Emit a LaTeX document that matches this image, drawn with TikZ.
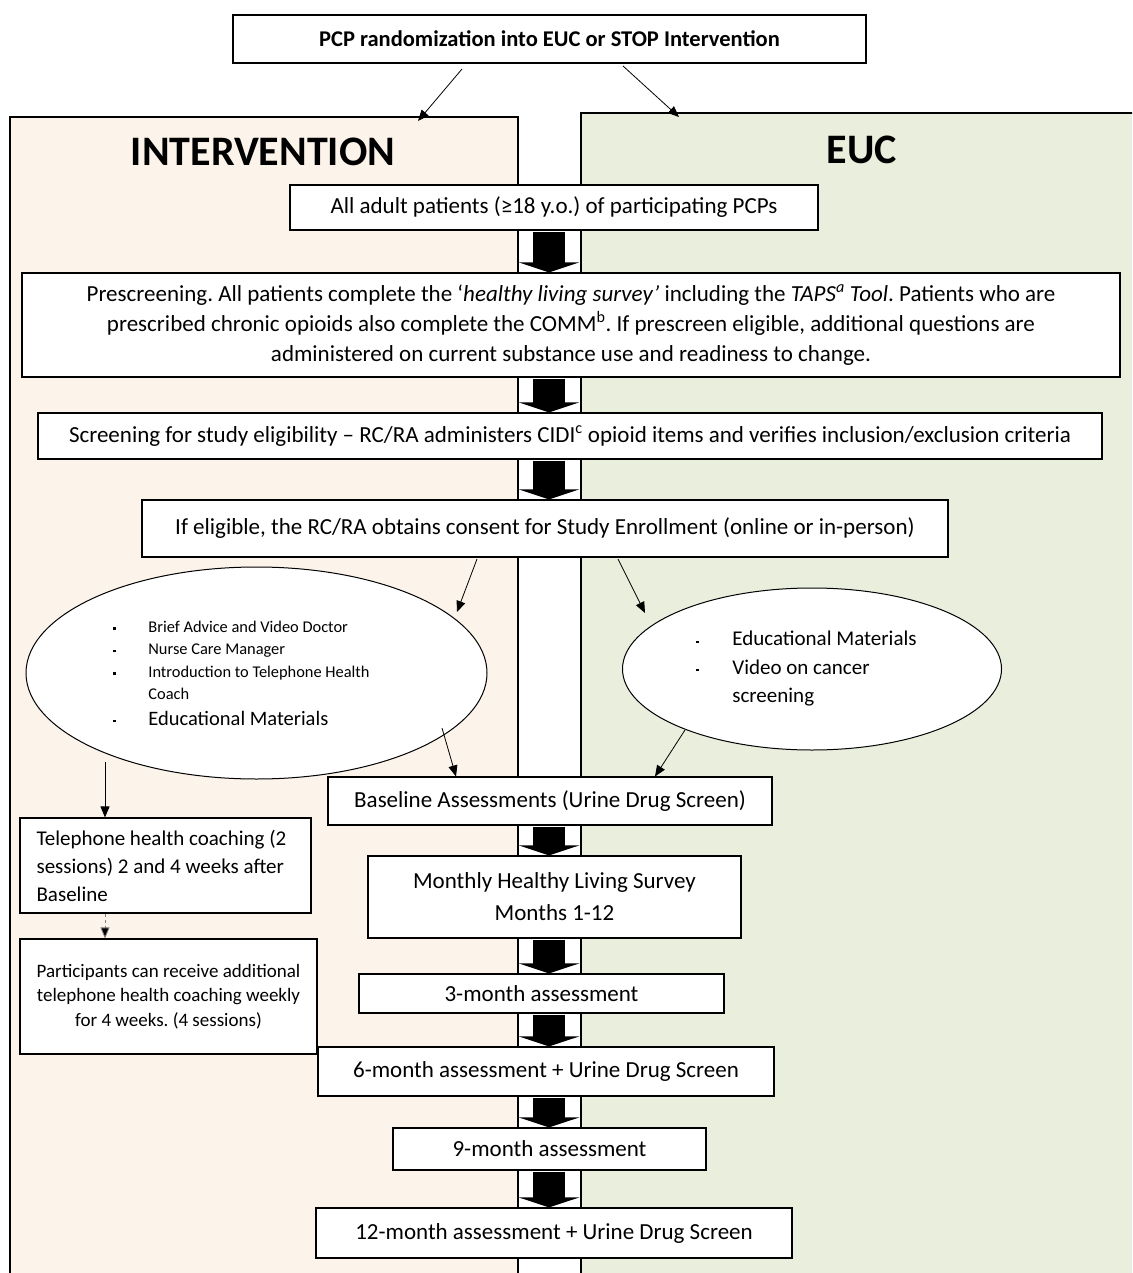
\documentclass[tikz,border=0pt]{standalone}
\usepackage{fontspec}
\setmainfont{Carlito}
\usetikzlibrary{arrows.meta,shapes.geometric,calc}
\definecolor{intfill}{HTML}{FCF3EA}
\definecolor{eucfill}{HTML}{EAEEDD}
\newcommand{\bul}[1]{\makebox[#1][l]{\rule[0.3ex]{2.3pt}{2.3pt}}}
\newcommand{\pad}[1]{\rule{#1}{0pt}}
\frenchspacing
\begin{document}
\begin{tikzpicture}[x=1pt,y=-1pt,
  box/.style={draw, line width=1.1pt, fill=white, inner sep=0pt, align=center,
     font=\fontsize{23}{30}\selectfont},
  oval/.style={draw, ellipse, line width=1pt, fill=white, inner sep=0pt, align=left},
  thin/.style={line width=0.8pt, -{Triangle[length=11pt,width=9pt]}},
  blockarr/.style={line width=32pt, -{Triangle[length=10pt,width=60pt]}, shorten <=1pt},
  head/.style={font=\fontsize{42}{46}\selectfont\bfseries, inner sep=0pt}]
\useasboundingbox (0,0) rectangle (1132,1273);
\clip (0,0) rectangle (1132,1273);
% panels
\fill[intfill] (10,117) rectangle (518,1290);
\draw[line width=1.1pt] (10,1290) -- (10,117) -- (518,117) -- (518,1290);
\fill[eucfill] (581,113) rectangle (1145,1290);
\draw[line width=1.1pt] (581,1290) -- (581,113) -- (1145,113);
\node[head] (inttitle) at (263,152) {INTERVENTION};
\node[head] (euctitle) at (862,150) {EUC};
\coordinate (chan) at (549,0);
% boxes
\node[box, font=\fontsize{22.5}{26}\selectfont\bfseries, minimum width=633pt, minimum height=48pt] (top) at (549.5,39) {PCP randomization into EUC or STOP Intervention};
\node[box, minimum width=528pt, minimum height=45pt] (all) at (554,207.5) {All adult patients (≥18 y.o.) of participating PCPs};
\node[box, minimum width=1098pt, minimum height=104pt] (presc) at (571,325) {Prescreening. All patients complete the ‘\textit{healthy living survey’} including the \textit{TAPS\textsuperscript{a} Tool}. Patients who are\\prescribed chronic opioids also complete the COMM\textsuperscript{b}. If prescreen eligible, additional questions are\\administered on current substance use and readiness to change.};
\node[box, minimum width=1064pt, minimum height=46pt] (screen) at (570,436) {Screening for study eligibility – RC/RA administers CIDI\textsuperscript{c} opioid items and verifies inclusion/exclusion criteria};
\node[box, minimum width=806pt, minimum height=57pt] (consent) at (545,528.5) {If eligible, the RC/RA obtains consent for Study Enrollment (online or in-person)};
\node[oval, minimum width=461pt, minimum height=212pt, font=\fontsize{16.4}{22.5}\selectfont] (lell) at (256.5,673) {\bul{35pt}Brief Advice and Video Doctor\\\bul{35pt}Nurse Care Manager\\\bul{35pt}Introduction to Telephone Health\pad{30pt}\\\hspace*{35pt}Coach\\[3pt]{\fontsize{20.5}{24}\selectfont\bul{35pt}Educational Materials}};
\node[oval, minimum width=379pt, minimum height=162pt, font=\fontsize{21}{28.5}\selectfont] (rell) at (812,669) {\bul{36pt}Educational Materials\pad{11pt}\\\bul{36pt}Video on cancer\\\hspace*{36pt}screening};
\node[box, minimum width=444pt, minimum height=48pt] (base) at (550,801) {Baseline Assessments (Urine Drug Screen)};
\node[box, minimum width=373pt, minimum height=82pt, font=\fontsize{23}{32}\selectfont] (month) at (554.5,897) {Monthly Healthy Living Survey\\Months 1-12};
\node[box, minimum width=365pt, minimum height=39pt] (m3) at (541.5,993.5) {3-month assessment};
\node[box, minimum width=456pt, minimum height=49pt] (m6) at (546,1071.5) {6-month assessment + Urine Drug Screen};
\node[box, minimum width=313pt, minimum height=42pt] (m9) at (549.5,1149) {9-month assessment};
\node[box, minimum width=476pt, minimum height=50pt] (m12) at (554,1233) {12-month assessment + Urine Drug Screen};
\node[box, align=left, font=\fontsize{21}{28}\selectfont, minimum width=291pt, minimum height=95pt] (tel) at (165.5,865.5) {Telephone health coaching (2\pad{8pt}\\sessions) 2 and 4 weeks after\\Baseline};
\node[box, font=\fontsize{19}{24.5}\selectfont, minimum width=297pt, minimum height=115pt] (part) at (168.5,996.5) {Participants can receive additional\\telephone health coaching weekly\\for 4 weeks. (4 sessions)};
% block arrows
\foreach \a/\b in {all/presc, presc/screen, screen/consent, base/month, month/m3, m3/m6, m6/m9, m9/m12}
  \draw[blockarr] (\a.south -| chan) -- (\b.north -| chan);
% thin arrows
\coordinate (t1) at (462,69); \coordinate (t1e) at (418,121);
\coordinate (t2) at (623,66); \coordinate (t2e) at (679,117);
\draw[thin] (t1) -- (t1e);
\draw[thin] (t2) -- (t2e);
\coordinate (c1) at (477,559); \coordinate (c1e) at (457,612);
\coordinate (c2) at (618,559); \coordinate (c2e) at (645,613);
\draw[thin] (c1) -- (c1e);
\draw[thin] (c2) -- (c2e);
\coordinate (l1) at (442,728); \coordinate (r1) at (685,730);
\draw[thin] (l1) -- (base.north -| 456,0);
\draw[thin] (r1) -- (base.north -| 655,0);
\coordinate (lv) at (105,762);
\draw[thin] (lv) -- (tel.north -| lv);
\draw[thin, dashed, draw=gray, -{Triangle[length=11pt,width=9pt,fill=black]}] (tel.south -| lv) -- (part.north -| lv);
\end{tikzpicture}
\end{document}
